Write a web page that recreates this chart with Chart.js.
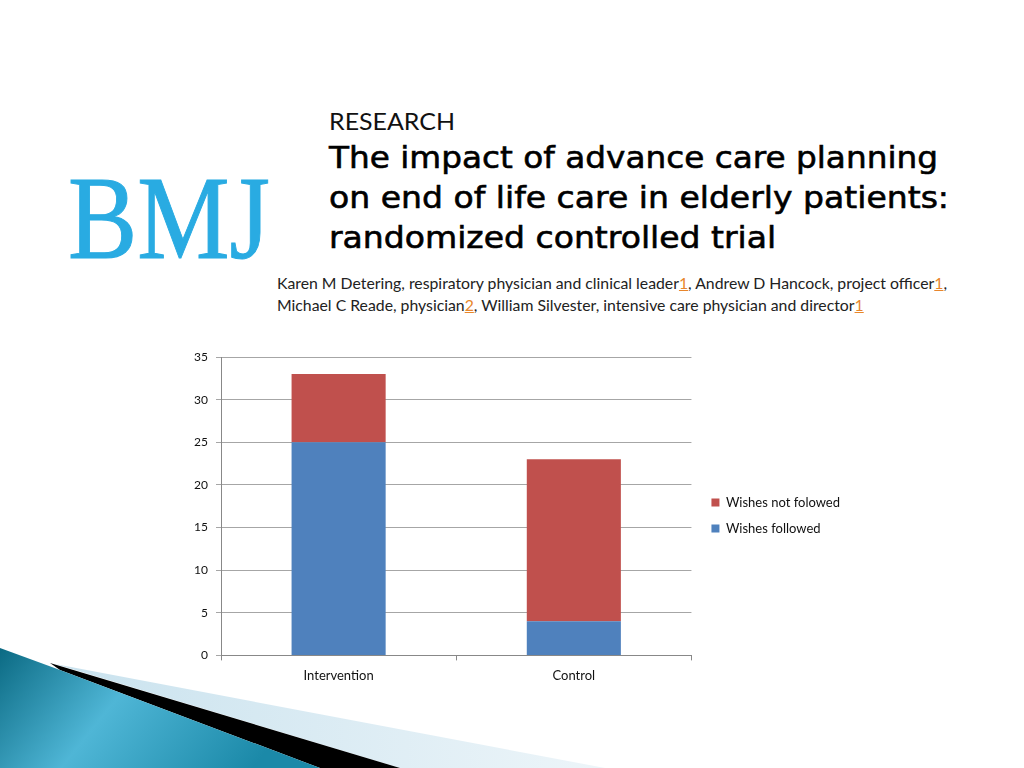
<!DOCTYPE html>
<html>
<head>
<meta charset="utf-8">
<script src="https://cdn.jsdelivr.net/npm/chart.js@4"></script>
<style>
  body { margin: 0; background: #fff; }
  #slide { position: relative; width: 1024px; height: 768px; overflow: hidden; background: #fff; }
  .fit { position: absolute; white-space: nowrap; transform-origin: 0 0; }
  #logo { left: 68px; top: 160px; font-family: "Liberation Serif", serif; font-size: 118px; color: #29abe2; line-height: 1; -webkit-text-stroke: 1px #29abe2; }
  #kicker { left: 329px; top: 106px; font-family: "Lato", sans-serif; font-size: 24px; color: #111; }
  .title { left: 329px; font-family: "DejaVu Sans", sans-serif; font-size: 31px; color: #000; -webkit-text-stroke: 0.6px #000; }
  .authors { left: 277px; font-family: "Lato", sans-serif; font-size: 15px; color: #222; }
  .authors u { color: #e8862b; }
  #wrap { position: absolute; left: 170px; top: 340px; width: 700px; height: 352px; }
  #deco { position: absolute; left: 0; top: 0; }
</style>
</head>
<body>
<div id="slide">
  <svg id="deco" width="1024" height="768">
    <defs>
      <linearGradient id="teal" x1="0" y1="0" x2="1" y2="0.3">
        <stop offset="0" stop-color="#0b6a83"/>
        <stop offset="0.45" stop-color="#4fb6d6"/>
        <stop offset="1" stop-color="#1b89a8"/>
      </linearGradient>
      <linearGradient id="pale" x1="0" y1="0" x2="1" y2="0">
        <stop offset="0" stop-color="#c9e2ee"/>
        <stop offset="1" stop-color="#edf5f9"/>
      </linearGradient>
    </defs>
    <polygon points="55,664 605,768 400,768" fill="url(#pale)"/>
    <polygon points="50,663 400,768 320,768 60,670" fill="#000"/>
    <polygon points="0,648 60,670 320,768 0,768" fill="url(#teal)"/>
  </svg>

  <div id="logo" class="fit" data-w="202">BMJ</div>
  <div id="kicker" class="fit" data-w="126">RESEARCH</div>
  <div class="fit title" style="top:139px" data-w="609">The impact of advance care planning</div>
  <div class="fit title" style="top:179px" data-w="620">on end of life care in elderly patients:</div>
  <div class="fit title" style="top:219px">randomized controlled trial</div>
  <div class="fit authors" style="top:274px" data-w="670">Karen M Detering, respiratory physician and clinical leader<u>1</u>, Andrew D Hancock, project officer<u>1</u>,</div>
  <div class="fit authors" style="top:296px">Michael C Reade, physician<u>2</u>, William Silvester, intensive care physician and director<u>1</u></div>

  <div id="wrap"><canvas id="chart"></canvas></div>
</div>

<script>
const categories = ['Intervention', 'Control'];
const wishesFollowed = [25, 4];
const wishesNotFollowed = [8, 19];
const seriesNames = ['Wishes followed', 'Wishes not folowed'];

// squeeze the slide text to the widths seen in the reference
let titleScale = 1;
document.querySelectorAll('.fit[data-w]').forEach((el) => {
  const s = +el.dataset.w / el.getBoundingClientRect().width;
  el.style.transform = 'scaleX(' + s + ')';
  if (el.classList.contains('title')) titleScale = s;
});
document.querySelectorAll('.title:not([data-w])').forEach((el) => {
  el.style.transform = 'scaleX(' + titleScale + ')';
});
const authorsScale = document.querySelector('.authors[data-w]').style.transform;
document.querySelectorAll('.authors:not([data-w])').forEach((el) => {
  el.style.transform = authorsScale;
});

// nudge the legend a bit right and up, like the slide
const legendNudge = {
  id: 'legendNudge',
  afterLayout(chart) {
    const lg = chart.legend;
    lg.left += 7; lg.right += 7;
    lg.top -= 9; lg.bottom -= 9;
  },
};

Chart.defaults.font.family = 'Lato, sans-serif';
Chart.defaults.font.size = 13;
Chart.defaults.color = '#222';

new Chart(document.getElementById('chart'), {
  type: 'bar',
  data: {
    labels: categories,
    datasets: [
      {
        label: seriesNames[0],
        data: wishesFollowed,
        backgroundColor: '#4f81bd',
        categoryPercentage: 1,
        barPercentage: 0.4,
      },
      {
        label: seriesNames[1],
        data: wishesNotFollowed,
        backgroundColor: '#c0504d',
        categoryPercentage: 1,
        barPercentage: 0.4,
      },
    ],
  },
  options: {
    responsive: true,
    maintainAspectRatio: false,
    animation: false,
    layout: { padding: { top: 17, right: 27, bottom: 0, left: 0 } },
    plugins: {
      tooltip: { enabled: false },
      legend: {
        position: 'right',
        reverse: true,
        labels: { boxWidth: 8, boxHeight: 8, padding: 13, color: '#111' },
      },
    },
    scales: {
      x: {
        stacked: true,
        grid: { drawOnChartArea: false, tickLength: 5, color: '#888' },
        border: { color: '#888' },
        ticks: { padding: 8, color: '#111' },
      },
      y: {
        stacked: true,
        min: 0,
        max: 35,
        ticks: { stepSize: 5, padding: 8, color: '#111', font: { size: 12 } },
        grid: { color: '#a6a6a6', tickLength: 5 },
        border: { color: '#888' },
        afterFit: (scale) => { scale.width = 51; },
      },
    },
  },
  plugins: [legendNudge],
});
</script>
</body>
</html>
